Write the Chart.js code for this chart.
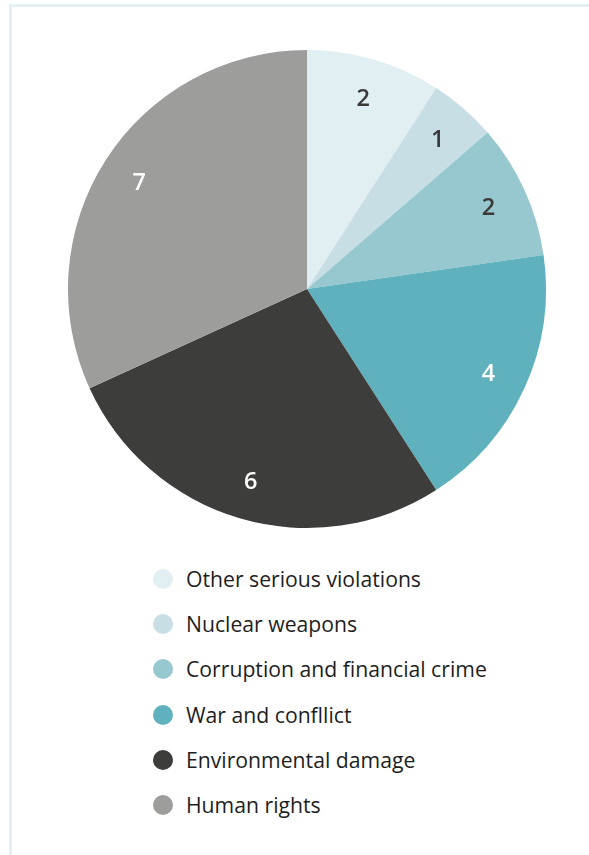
<!DOCTYPE html>
<html>
<head>
<meta charset="utf-8">
<script src="https://cdn.jsdelivr.net/npm/chart.js@4/dist/chart.umd.min.js"></script>
<style>
  html, body { margin: 0; padding: 0; background: #fff; }
  body { width: 589px; height: 855px; position: relative; overflow: hidden; font-family: "Open Sans", sans-serif; }
  .frame { position: absolute; left: 9px; top: 4px; right: 0; bottom: 0; border-top: 3px solid #e3eff3; border-left: 3px solid #e3eff3; }
  #pie { position: absolute; left: 58px; top: 40px; }
  #legend { position: absolute; left: 153px; top: 566px; list-style: none; margin: 0; padding: 0; }
  #legend li { height: 45.2px; display: flex; align-items: flex-start; }
  #legend .dot { width: 20px; height: 20px; border-radius: 50%; margin-top: 3px; margin-right: 13px; flex: none; }
  #legend .txt { font-size: 21.2px; line-height: 26px; color: #1e1e1e; white-space: nowrap; }
</style>
</head>
<body>
<div class="frame"></div>
<canvas id="pie" width="498" height="498"></canvas>
<ul id="legend"></ul>
<script>
const categories = [
  "Other serious violations",
  "Nuclear weapons",
  "Corruption and financial crime",
  "War and confllict",
  "Environmental damage",
  "Human rights"
];
const counts = [2, 1, 2, 4, 6, 7];
const sliceColors = ["#e1eef2", "#c7dfe4", "#98c8cf", "#5eb1bd", "#3d3d3b", "#9d9d9b"];
const labelColors = ["#3a3a3a", "#3a3a3a", "#3a3a3a", "#ffffff", "#ffffff", "#ffffff"];

// value labels drawn inside each slice, near the rim
const sliceLabels = {
  id: "sliceLabels",
  afterDatasetsDraw(chart) {
    const { ctx } = chart;
    const meta = chart.getDatasetMeta(0);
    ctx.save();
    ctx.font = "600 23.5px 'Open Sans'";
    ctx.textAlign = "center";
    ctx.textBaseline = "middle";
    meta.data.forEach((arc, i) => {
      const { x, y, startAngle, endAngle, outerRadius } = arc.getProps(["x", "y", "startAngle", "endAngle", "outerRadius"], true);
      const mid = (startAngle + endAngle) / 2;
      const r = outerRadius * 0.835;
      ctx.fillStyle = labelColors[i];
      ctx.fillText(String(counts[i]), x + Math.cos(mid) * r, y + Math.sin(mid) * r + 2);
    });
    ctx.restore();
  }
};

new Chart(document.getElementById("pie").getContext("2d"), {
  type: "pie",
  data: {
    labels: categories,
    datasets: [
      {
        data: counts,
        backgroundColor: sliceColors,
        borderWidth: 0
      }
    ]
  },
  options: {
    responsive: false,
    animation: false,
    layout: { padding: 10 },
    plugins: {
      legend: { display: false },
      tooltip: { enabled: false }
    }
  },
  plugins: [sliceLabels]
});

const legendEl = document.getElementById("legend");
categories.forEach((name, i) => {
  const li = document.createElement("li");
  const dot = document.createElement("span");
  dot.className = "dot";
  dot.style.background = sliceColors[i];
  const txt = document.createElement("span");
  txt.className = "txt";
  txt.textContent = name;
  li.appendChild(dot);
  li.appendChild(txt);
  legendEl.appendChild(li);
});
</script>
</body>
</html>
